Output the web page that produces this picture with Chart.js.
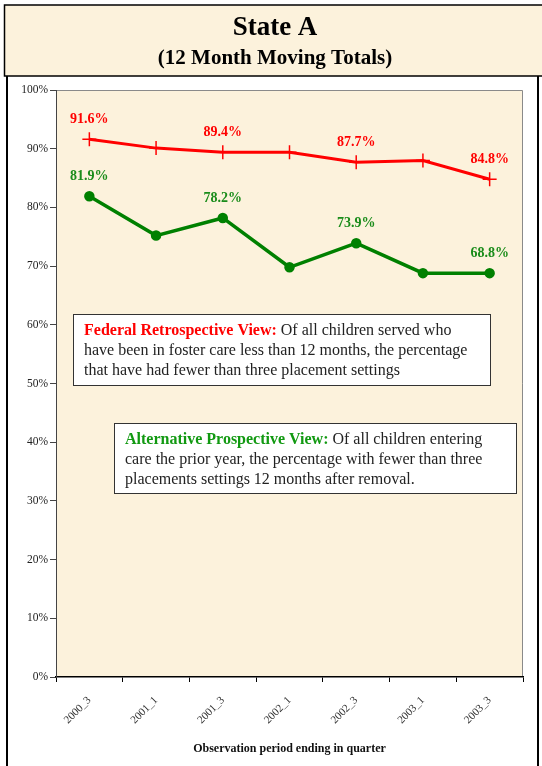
<!DOCTYPE html>
<html>
<head>
<meta charset="utf-8">
<script src="https://cdn.jsdelivr.net/npm/chart.js@4"></script>
<style>
  html, body { margin: 0; padding: 0; background: #fff; overflow: hidden; }
  #wrap { position: relative; width: 542px; height: 766px; }
</style>
</head>
<body>
<div id="wrap"><canvas id="stateChart"></canvas></div>
<script>
// chart data
const quarters = ["2000_3", "2001_1", "2001_3", "2002_1", "2002_3", "2003_1", "2003_3"];
const federalRetro = [91.6, 90.1, 89.4, 89.4, 87.7, 88.0, 84.8];
const altProspective = [81.9, 75.2, 78.2, 69.8, 73.9, 68.8, 68.8];
const labeledPoints = [0, 2, 4, 6];
const yTicks = [0, 10, 20, 30, 40, 50, 60, 70, 80, 90, 100];

const PAPER = "#fcf2dc";
const SERIF = "'Liberation Serif', 'DejaVu Serif', serif";

// draws the paper frame, title and plot fill behind the chart
const framePlugin = {
  id: "frame",
  beforeDraw(chart) {
    const { ctx, chartArea: a } = chart;
    const W = chart.width + 10;
    ctx.save();
    ctx.fillStyle = "#fff";
    ctx.fillRect(0, 0, chart.width, chart.height);

    // title box (open on the right side)
    ctx.fillStyle = PAPER;
    ctx.fillRect(4, 5, W, 71);
    ctx.strokeStyle = "#000";
    ctx.lineWidth = 1.5;
    ctx.beginPath();
    ctx.moveTo(W, 5);
    ctx.lineTo(4.5, 5);
    ctx.lineTo(4.5, 76);
    ctx.lineTo(W, 76);
    ctx.stroke();

    // side lines of the lower frame
    ctx.lineWidth = 2;
    ctx.beginPath();
    ctx.moveTo(7, 76); ctx.lineTo(7, chart.height);
    ctx.moveTo(538, 76); ctx.lineTo(538, chart.height);
    ctx.stroke();

    ctx.fillStyle = "#000";
    ctx.textAlign = "center";
    ctx.textBaseline = "middle";
    ctx.font = "bold 27px " + SERIF;
    ctx.fillText("State A", 275, 28);
    ctx.font = "bold 21px " + SERIF;
    ctx.fillText("(12 Month Moving Totals)", 275, 59);

    // plot area
    ctx.fillStyle = PAPER;
    ctx.fillRect(a.left, a.top, a.right - a.left, a.bottom - a.top);
    ctx.strokeStyle = "#8a8a8a";
    ctx.lineWidth = 1;
    ctx.beginPath();
    ctx.moveTo(a.left, a.top + 0.5);
    ctx.lineTo(a.right - 0.5, a.top + 0.5);
    ctx.lineTo(a.right - 0.5, a.bottom);
    ctx.stroke();
    ctx.restore();
  },
  afterDatasetsDraw(chart) {
    const { ctx } = chart;
    ctx.save();
    ctx.font = "bold 14px " + SERIF;
    ctx.textAlign = "center";
    ctx.textBaseline = "middle";
    chart.data.datasets.forEach((ds, i) => {
      const meta = chart.getDatasetMeta(i);
      ctx.fillStyle = ds.labelColor;
      labeledPoints.forEach(j => {
        const p = meta.data[j];
        ctx.fillText(ds.data[j].toFixed(1) + "%", p.x, p.y - 20);
      });
    });

    drawNote(ctx, 73, 314, 417, 71, "Federal Retrospective View:", "#ff0000", [
      " Of all children served who",
      "have been in foster care less than 12 months, the percentage",
      "that have had fewer than three placement settings"
    ]);
    drawNote(ctx, 114, 423, 402, 70, "Alternative Prospective View:", "#119911", [
      " Of all children entering",
      "care the prior year, the percentage with fewer than three",
      "placements settings 12 months after removal."
    ]);
    ctx.restore();
  }
};

function drawNote(ctx, x, y, w, h, head, headColor, lines) {
  ctx.fillStyle = "#fff";
  ctx.fillRect(x, y, w, h);
  ctx.strokeStyle = "#333";
  ctx.lineWidth = 1;
  ctx.strokeRect(x + 0.5, y + 0.5, w, h);
  ctx.textAlign = "left";
  ctx.textBaseline = "middle";
  const tx = x + 11;
  ctx.font = "bold 16px " + SERIF;
  ctx.fillStyle = headColor;
  ctx.fillText(head, tx, y + 17);
  const hw = ctx.measureText(head).width;
  ctx.font = "16px " + SERIF;
  ctx.fillStyle = "#222";
  ctx.fillText(lines[0], tx + hw, y + 17);
  ctx.fillText(lines[1], tx, y + 37);
  ctx.fillText(lines[2], tx, y + 57);
}

const ctx = document.getElementById("stateChart").getContext("2d");
new Chart(ctx, {
  type: "line",
  data: {
    labels: quarters,
    datasets: [
      {
        label: "Federal Retrospective View",
        data: federalRetro,
        borderColor: "#ff0000",
        borderWidth: 3,
        pointStyle: "cross",
        pointRadius: 7,
        pointBorderWidth: 1.5,
        pointBorderColor: "#ff0000",
        pointBackgroundColor: "#ff0000",
        tension: 0,
        labelColor: "#ff0000"
      },
      {
        label: "Alternative Prospective View",
        data: altProspective,
        borderColor: "#008000",
        borderWidth: 3.5,
        pointStyle: "circle",
        pointRadius: 3.5,
        pointBackgroundColor: "#008000",
        pointBorderColor: "#008000",
        tension: 0,
        labelColor: "#1a8c1a"
      }
    ]
  },
  options: {
    responsive: true,
    maintainAspectRatio: false,
    animation: false,
    layout: { padding: { top: 90, left: 0, right: 19, bottom: 0 } },
    scales: {
      x: {
        offset: true,
        grid: { offset: true, drawOnChartArea: false, tickLength: 5, color: "#000" },
        border: { color: "#000", width: 1.5 },
        ticks: {
          minRotation: 45,
          maxRotation: 45,
          padding: 12,
          color: "#333",
          font: { family: SERIF, size: 11 }
        },
        title: {
          display: true,
          text: "Observation period ending in quarter",
          color: "#111",
          font: { family: SERIF, size: 12, weight: "bold" },
          padding: { top: 4, bottom: 10 }
        },
        afterFit(scale) { scale.height = 89; }
      },
      y: {
        min: 0,
        max: 100,
        afterBuildTicks(scale) { scale.ticks = yTicks.map(v => ({ value: v })); },
        grid: { drawOnChartArea: false, tickLength: 6, color: "#444" },
        border: { color: "#444", width: 1 },
        ticks: {
          padding: 2,
          color: "#222",
          font: { family: SERIF, size: 11.5 },
          callback: v => v + "%"
        },
        afterFit(scale) { scale.width = 56; }
      }
    },
    plugins: {
      legend: { display: false },
      tooltip: { enabled: false }
    }
  },
  plugins: [framePlugin]
});
</script>
</body>
</html>
